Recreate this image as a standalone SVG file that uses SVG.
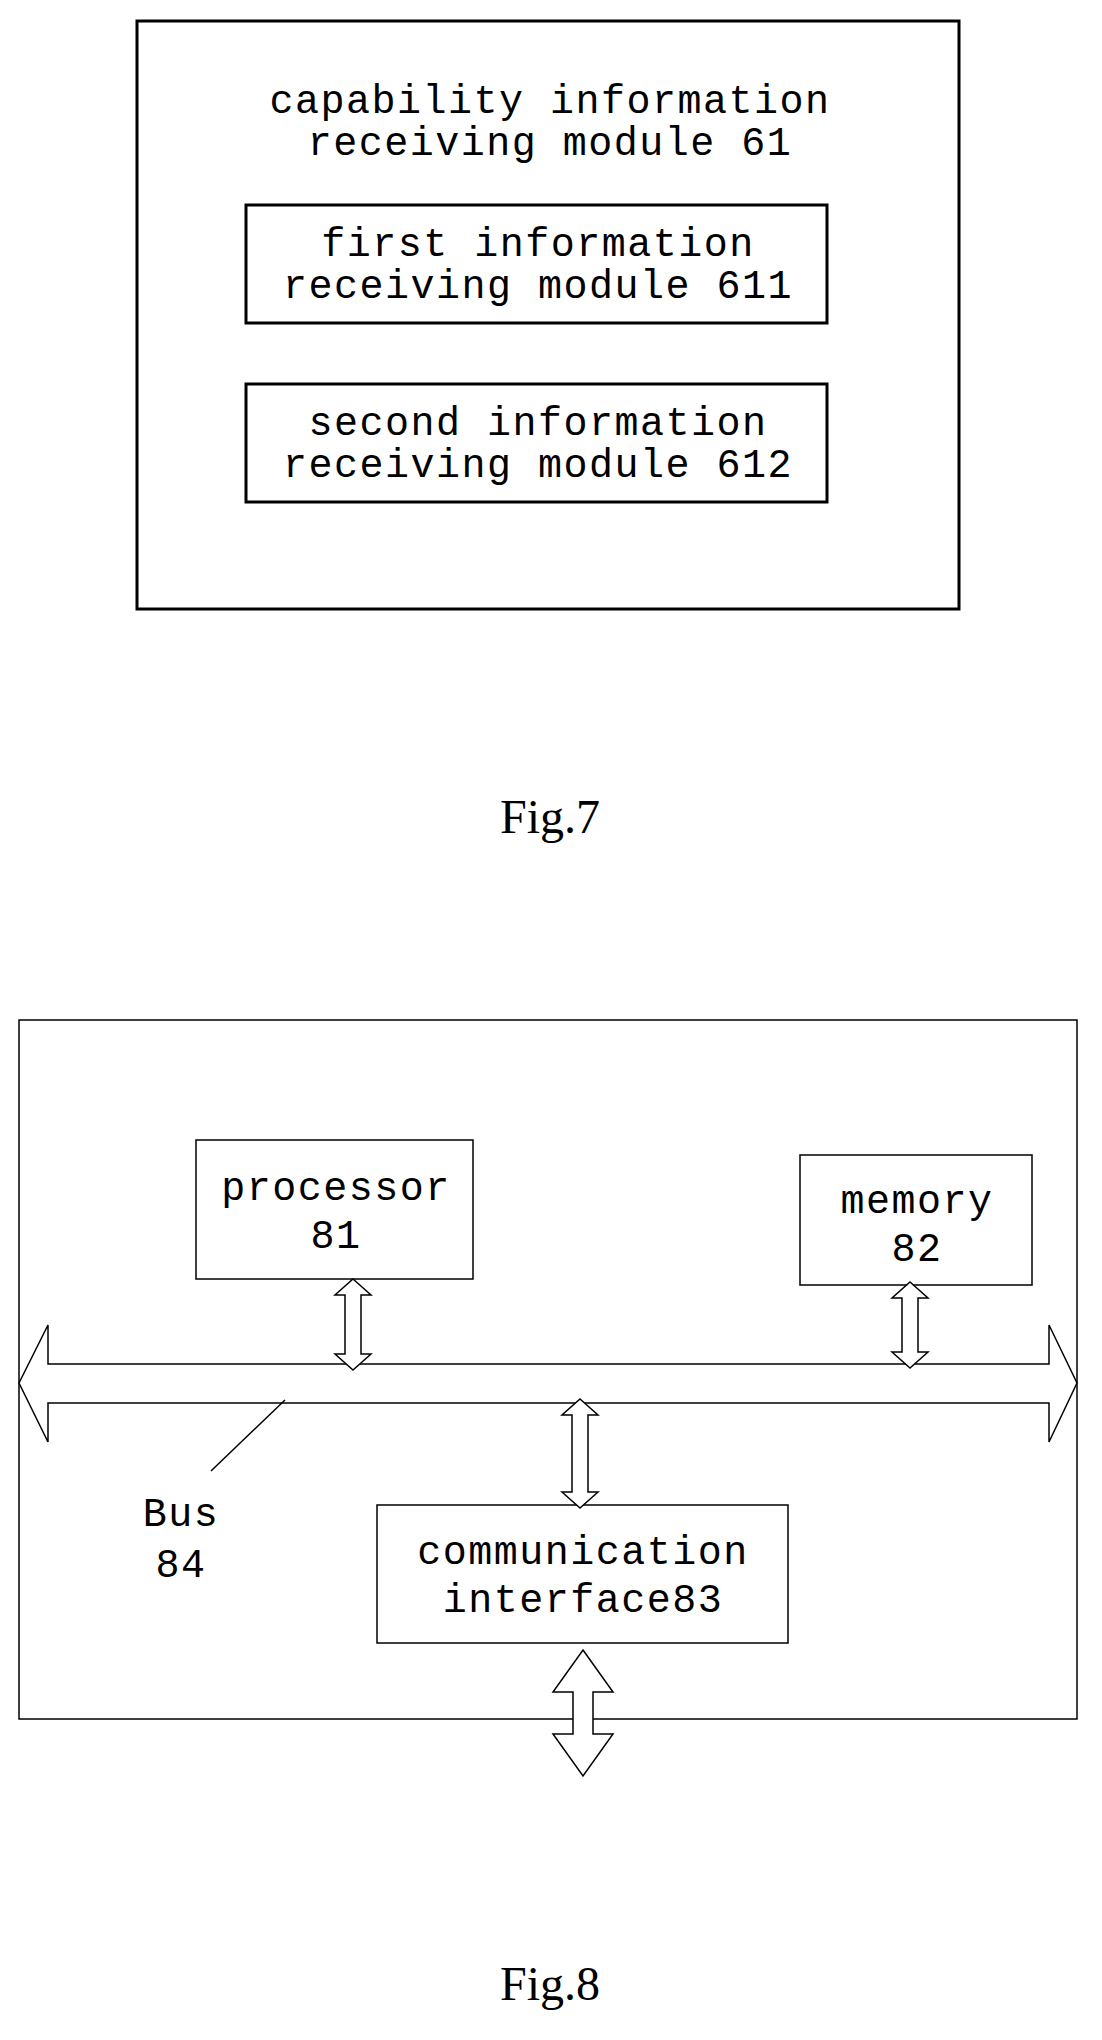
<svg xmlns="http://www.w3.org/2000/svg" width="1102" height="2040" viewBox="0 0 1102 2040">
<style>
.t{font-family:"Liberation Mono","DejaVu Sans Mono",monospace;font-size:40px;letter-spacing:1.5px;fill:#000;text-anchor:middle}
.f{font-family:"Liberation Serif",serif;font-size:48px;fill:#000;text-anchor:middle}
.b7{fill:none;stroke:#000;stroke-width:3}
.b8{fill:#fff;stroke:#000;stroke-width:1.5}
.a{fill:#fff;stroke:#000;stroke-width:1.5}
</style>
<rect width="1102" height="2040" fill="#fff"/>
<g id="fig7">
<g id="m61"><rect class="b7" x="137" y="21" width="822" height="588"/>
<text class="t" x="550" y="113">capability information</text>
<text class="t" x="550" y="155">receiving module 61</text></g>
<g id="m611"><rect class="b7" x="246" y="205" width="581" height="118"/>
<text class="t" x="538" y="256">first information</text>
<text class="t" x="538" y="298">receiving module 611</text></g>
<g id="m612"><rect class="b7" x="246" y="384" width="581" height="118"/>
<text class="t" x="538" y="435">second information</text>
<text class="t" x="538" y="477">receiving module 612</text></g>
<text class="f" x="550" y="833">Fig.7</text>
</g>
<g id="fig8">
<g id="frame"><rect class="b8" x="19" y="1020" width="1058" height="699"/></g>
<g id="processor"><rect class="b8" x="196" y="1140" width="277" height="139"/>
<text class="t" x="336" y="1200">processor</text><text class="t" x="336" y="1248">81</text></g>
<g id="memory"><rect class="b8" x="800" y="1155" width="232" height="130"/>
<text class="t" x="917" y="1213">memory</text><text class="t" x="917" y="1261">82</text></g>
<g id="comm"><rect class="b8" x="377" y="1505" width="411" height="138"/>
<text class="t" x="583" y="1564">communication</text><text class="t" x="583" y="1612">interface83</text></g>
<g id="bus"><polygon class="a" points="19,1383 48,1325 48,1364 1049,1364 1049,1325 1077,1383 1049,1442 1049,1403 48,1403 48,1442"/>
<line x1="211" y1="1471" x2="285" y2="1400" stroke="#000" stroke-width="1.5"/>
<text class="t" x="181" y="1526">Bus</text><text class="t" x="181" y="1577">84</text></g>
<g id="connectors">
<polygon class="a" points="353,1279 371,1295 361,1295 361,1354 371,1354 353,1370 335,1354 345,1354 345,1295 335,1295"/>
<polygon class="a" points="910,1282 928,1298 918,1298 918,1352 928,1352 910,1368 892,1352 902,1352 902,1298 892,1298"/>
<polygon class="a" points="580,1399 598,1415 588,1415 588,1492 598,1492 580,1508 562,1492 572,1492 572,1415 562,1415"/>
<polygon class="a" points="583,1650 613,1692 593,1692 593,1734 613,1734 583,1776 553,1734 573,1734 573,1692 553,1692"/>
</g>
<text class="f" x="550" y="2000">Fig.8</text>
</g>
</svg>
